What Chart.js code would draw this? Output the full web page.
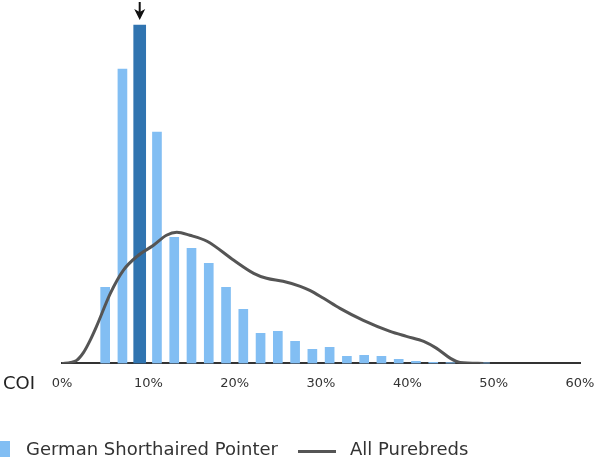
<!DOCTYPE html>
<html><head><meta charset="utf-8">
<script src="https://cdn.jsdelivr.net/npm/chart.js@4"></script>
<style>
html,body{margin:0;padding:0;background:#fff;}
#wrap{position:relative;width:597px;height:461px;overflow:hidden;font-family:"DejaVu Sans",sans-serif;color:#333;}
#c{position:absolute;left:0;top:0;}
#coi{position:absolute;left:3px;top:372px;font-size:18px;line-height:22px;color:#222;}
.leg{position:absolute;top:438px;font-size:18px;line-height:22px;color:#333;white-space:nowrap;}
.sq{position:absolute;left:-6px;top:441px;width:16px;height:16px;background:#82BEF3;}
.ln{position:absolute;left:298px;top:450px;width:38px;height:3px;background:#555;}
</style></head>
<body><div id="wrap"><canvas id="c" width="597" height="461"></canvas>
<div id="coi">COI</div>
<div class="sq"></div><div class="leg" style="left:26px">German Shorthaired Pointer</div>
<div class="ln"></div><div class="leg" style="left:350px">All Purebreds</div>
</div>
<script>
// COI bins (%) and German Shorthaired Pointer relative frequencies
const binCOI = [5,7,11,13,15,17,19,21,23,25,27,29,31,33,35,37,39,41,43,45,49];
const binFreq = [76,294,231,126,115,100,76,54,30,32,22,14,16,7,8,7,4,2,1,0.7,0.5];
// highlighted bin (breed's own COI)
const highlightCOI = [9];
const highlightFreq = [338];
// All purebreds density curve
const allCOI = [0,1,1.7,2.5,3.2,4,5.6,7.1,8.7,10.6,12.1,13.3,14.8,16.8,19.9,22.2,23.7,25.6,27.6,28.7,30.3,32.2,34.9,38,39.9,41.9,43.4,45,46.1,48.8];
const allDens = [0,1,3,11,22,37,70,93,107,118,128,131,128,122,103,90,85,82,77,73,65,55,43,32,27,22,15,5,1,0];
const xTicks = [0,10,20,30,40,50,60];

const pts = (xs, ys) => xs.map((x,i)=>({x, y: ys[i]}));

const arrowPlugin = {
  id:'arrow',
  afterDatasetsDraw(chart){
    const ctx = chart.ctx, xs = chart.scales.x, ys = chart.scales.y;
    const x = xs.getPixelForValue(highlightCOI[0]);
    const tip = ys.getPixelForValue(highlightFreq[0]) - 5;
    ctx.save();
    ctx.strokeStyle='#111'; ctx.fillStyle='#111'; ctx.lineWidth=2;
    ctx.beginPath(); ctx.moveTo(x, 2); ctx.lineTo(x, tip-8); ctx.stroke();
    ctx.beginPath(); ctx.moveTo(x-5.5, tip-11); ctx.lineTo(x, tip-8); ctx.lineTo(x+5.5, tip-11); ctx.lineTo(x, tip); ctx.closePath(); ctx.fill();
    ctx.restore();
  }
};

new Chart(document.getElementById('c'), {
  type:'bar',
  data:{ datasets:[
    { type:'line', data: pts(allCOI, allDens), borderColor:'#555', borderWidth:3, pointRadius:0, tension:0.4, cubicInterpolationMode:'monotone', fill:false, order:0 },
    { data: pts(highlightCOI, highlightFreq), backgroundColor:'#3074B0', barThickness:12, grouped:false, order:1 },
    { data: pts(binCOI, binFreq), backgroundColor:'#82BEF3', barThickness:9, grouped:false, order:2 }
  ]},
  options:{
    responsive:false, animation:false,
    layout:{ padding:{ left:62, right:17, top:20, bottom:58 } },
    plugins:{ legend:{display:false}, tooltip:{enabled:false} },
    scales:{
      x:{ type:'linear', min:0, max:60, offset:false,
          afterBuildTicks: s => { s.ticks = xTicks.map(v=>({value:v})); },
          afterFit: s => { s.paddingLeft = 0; s.paddingRight = 0; },
          grid:{ display:false, offset:false, drawTicks:false },
          border:{ display:true, color:'#333', width:2 },
          ticks:{ padding:12, color:'#333', font:{ family:'DejaVu Sans', size:13 }, callback: v => v + '%', maxRotation:0, autoSkip:false } },
      y:{ display:false, min:0, max:343 }
    }
  },
  plugins:[arrowPlugin]
});
</script></body></html>
